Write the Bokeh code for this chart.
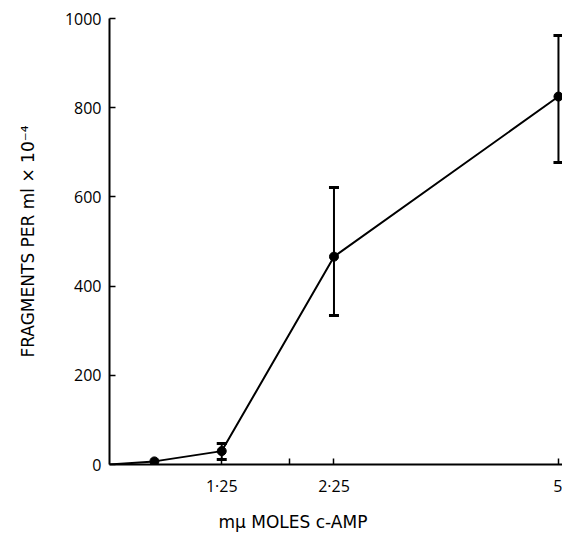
from bokeh.plotting import figure
from bokeh.models import ColumnDataSource, Whisker, TeeHead, FixedTicker, Range1d, Title
from bokeh.embed import file_html
from bokeh.resources import INLINE

# data
x_line = [0, 0.5, 1.25, 2.5, 5]
y_line = [0, 7, 30, 466, 825]
x_pts = [0.5, 1.25, 2.5, 5]
y_pts = [7, 30, 466, 825]
err_x = [1.25, 2.5, 5]
err_lo = [11, 334, 677]
err_hi = [47, 621, 962]
x_ticks = [1.25, 2, 2.5, 5]
x_tick_labels = ["1·25", "", "2·25", "5"]
y_ticks = [0, 200, 400, 600, 800, 1000]
x_title = "mμ MOLES c-AMP"
y_title = "FRAGMENTS PER ml × 10⁻⁴"

p = figure(width=562, height=546, output_backend="svg", toolbar_location=None,
           x_range=Range1d(0, 5.045), y_range=Range1d(0, 1000),
           min_border_left=109, min_border_right=0, min_border_top=18, min_border_bottom=82)
p.outline_line_color = None
p.grid.visible = False

p.line(x_line, y_line, line_color="black", line_width=2)
p.scatter(x_pts, y_pts, size=9, fill_color="black", line_color="black")

src = ColumnDataSource(dict(x=err_x, lo=err_lo, hi=err_hi))
w = Whisker(source=src, base="x", lower="lo", upper="hi", line_color="black", line_width=2,
            upper_head=TeeHead(size=10, line_color="black", line_width=3),
            lower_head=TeeHead(size=10, line_color="black", line_width=3))
p.add_layout(w)

tick_font = "Open Sans"
label_font = "DejaVu Sans"
p.xaxis.ticker = FixedTicker(ticks=x_ticks)
p.xaxis.major_label_overrides = {t: l for t, l in zip(x_ticks, x_tick_labels)}
p.yaxis.ticker = FixedTicker(ticks=y_ticks)
for ax in (p.xaxis[0], p.yaxis[0]):
    ax.axis_line_color = "black"
    ax.axis_line_width = 2
    ax.major_tick_in = 6
    ax.major_tick_out = 0
    ax.major_tick_line_width = 1.5
    ax.minor_tick_line_color = None
    ax.major_label_text_font = tick_font
    ax.major_label_text_font_size = "16px"
    ax.major_label_text_color = "black"
    ax.axis_label_text_font = label_font
    ax.axis_label_text_font_style = "normal"
    ax.axis_label_text_font_size = "17px"
    ax.axis_label_text_color = "black"

p.xaxis.major_label_standoff = 10
p.yaxis.major_label_standoff = 8
p.yaxis.axis_label = y_title
p.yaxis.axis_label_standoff = 24

p.add_layout(Title(text=x_title, align="left", offset=109, standoff=20,
                   text_font=label_font, text_font_size="17px",
                   text_font_style="normal", text_color="black"), "below")

open("out.html", "w").write(file_html(p, INLINE))
